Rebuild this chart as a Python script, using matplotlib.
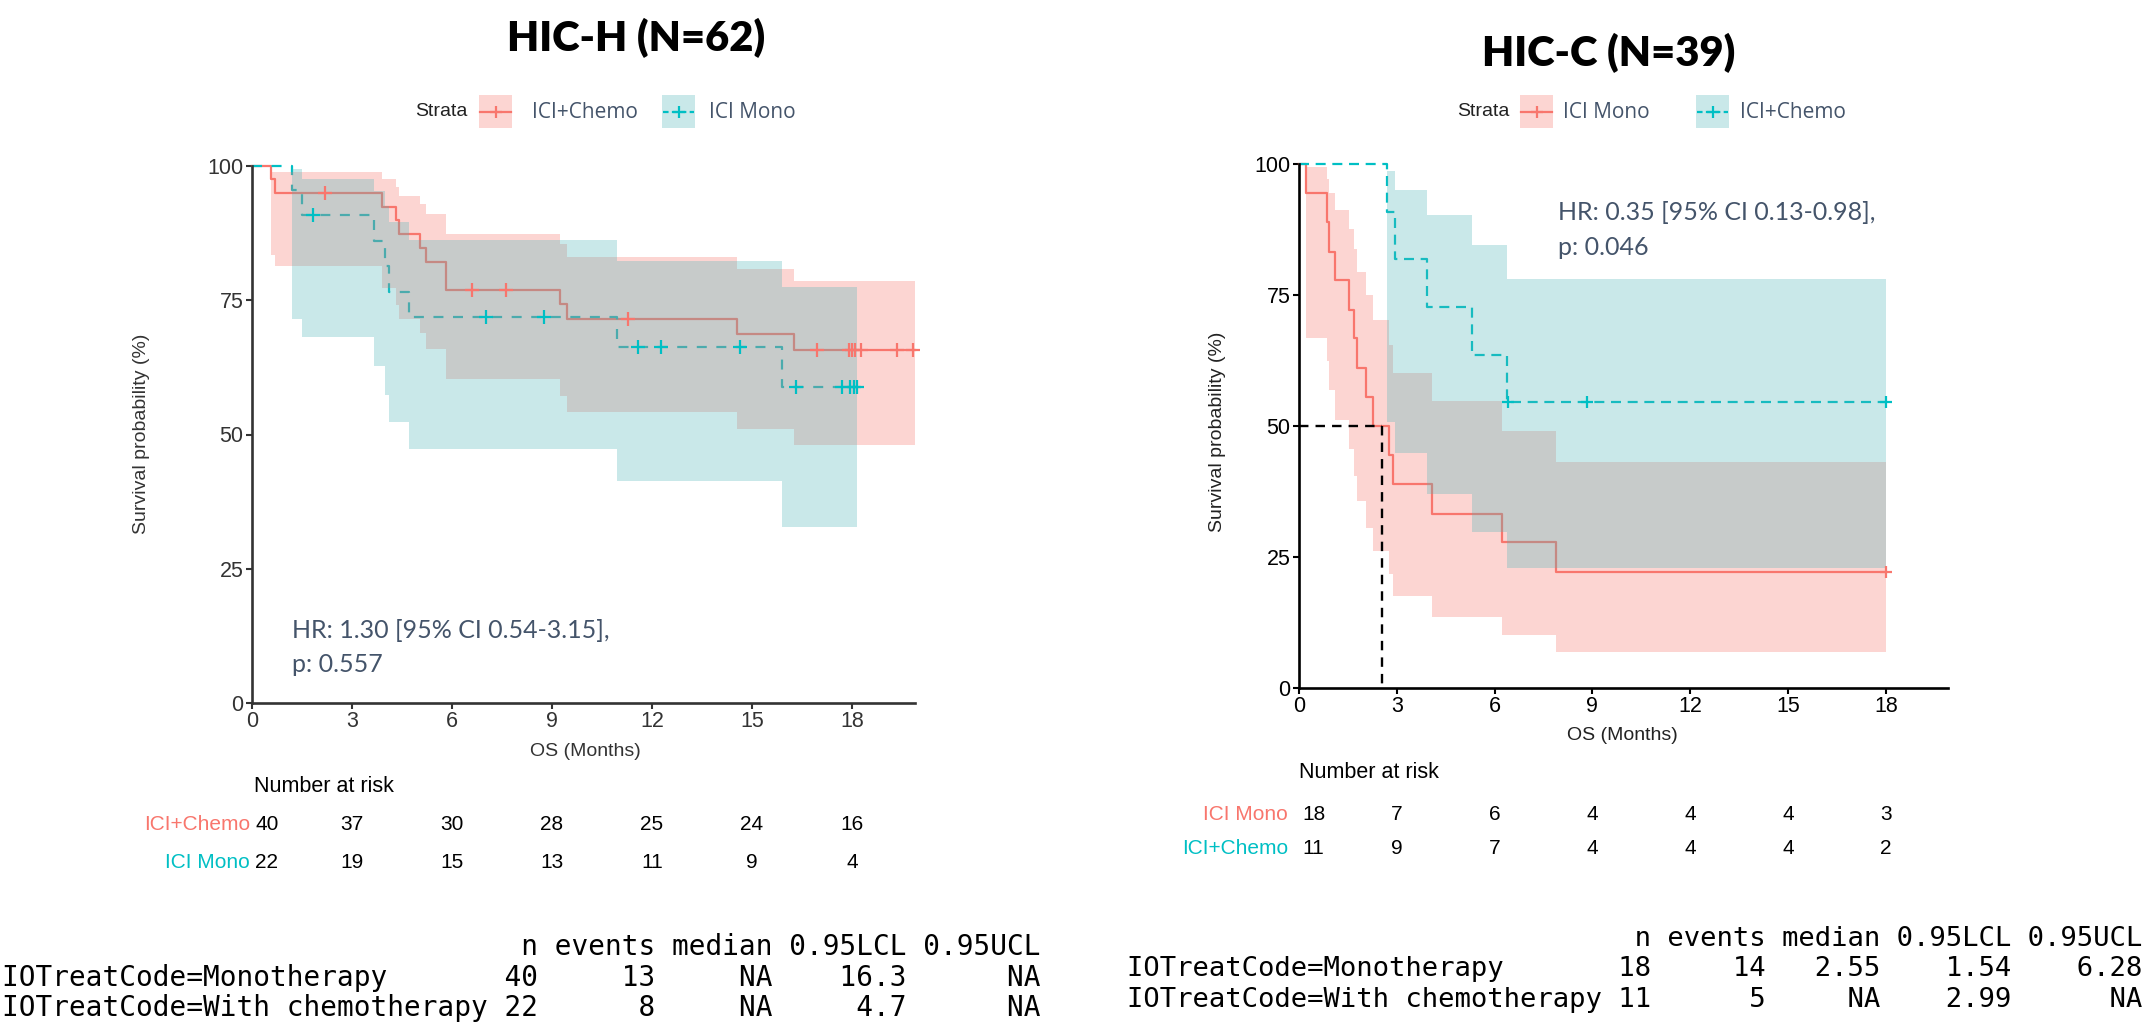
import numpy as np
import matplotlib
matplotlib.use("Agg")
from matplotlib import pyplot as plt
from matplotlib import transforms
from matplotlib.patches import Rectangle
from matplotlib.lines import Line2D

plt.rcParams["font.family"] = ["Liberation Sans", "DejaVu Sans"]

RED = "#F8766D"
BLUE = "#00BFC4"
BLUE_BAND = "#4FB5B8"
SLATE = "#44546A"
W, H = 2156, 1023

# ---- HIC-H (left panel) ----
h_chemo_t = [0, 0.57, 0.68, 3.91, 4.31, 4.41, 5.03, 5.22, 5.82, 9.23, 9.45, 14.54, 16.26]
h_chemo_s = [100, 97.5, 95.0, 92.4, 89.9, 87.3, 84.7, 82.2, 77.0, 74.3, 71.5, 68.7, 65.8]
h_chemo_lo = [100, 83.4, 81.4, 77.3, 74.2, 71.5, 68.9, 66.0, 60.3, 57.1, 54.2, 51.1, 48.0]
h_chemo_hi = [100, 98.9, 98.9, 97.5, 96.1, 94.5, 92.9, 91.1, 87.3, 85.4, 83.1, 80.8, 78.5]
h_chemo_end = 19.9
h_chemo_cens = [2.2, 6.6, 7.63, 11.28, 16.95, 17.9, 18.0, 18.1, 18.27, 19.35, 19.82]

h_mono_t = [0, 1.2, 1.5, 3.65, 4.0, 4.12, 4.71, 10.94, 15.9]
h_mono_s = [100, 95.5, 90.9, 86.1, 81.3, 76.6, 71.8, 66.3, 58.9]
h_mono_lo = [100, 71.6, 68.1, 62.8, 57.4, 52.4, 47.3, 41.3, 32.8]
h_mono_hi = [100, 99.4, 97.6, 95.3, 92.6, 89.6, 86.3, 82.4, 77.5]
h_mono_end = 18.16
h_mono_cens = [1.83, 7.03, 8.75, 11.58, 12.26, 14.64, 16.31, 17.71, 17.95, 18.05, 18.16]

# ---- HIC-C (right panel) ----
c_mono_t = [0, 0.21, 0.85, 0.91, 1.11, 1.54, 1.69, 1.79, 2.06, 2.28, 2.77, 2.89, 4.07, 6.22, 7.88]
c_mono_s = [100, 94.4, 88.9, 83.3, 77.8, 72.2, 66.7, 61.1, 55.6, 50.0, 44.4, 38.9, 33.3, 27.8, 22.2]
c_mono_lo = [100, 66.7, 62.5, 56.9, 51.1, 45.7, 40.5, 35.6, 30.5, 26.1, 21.8, 17.6, 13.6, 10.1, 6.9]
c_mono_hi = [100, 99.5, 97.1, 94.4, 91.2, 87.6, 83.8, 79.3, 75.0, 70.2, 65.4, 60.2, 54.8, 49.1, 43.1]
c_mono_end = 18.0
c_mono_cens = [18.0]

c_chemo_t = [0, 2.71, 2.94, 3.92, 5.32, 6.37]
c_chemo_s = [100, 90.9, 81.8, 72.7, 63.6, 54.5]
c_chemo_lo = [100, 50.8, 44.8, 37.1, 29.7, 22.9]
c_chemo_hi = [100, 98.7, 95.1, 90.3, 84.5, 78.0]
c_chemo_end = 18.0
c_chemo_cens = [6.4, 8.82, 18.0]
c_median = 2.54

# ---- number at risk ----
risk_times = [0, 3, 6, 9, 12, 15, 18]
h_risk_chemo = [40, 37, 30, 28, 25, 24, 16]
h_risk_mono = [22, 19, 15, 13, 11, 9, 4]
c_risk_mono = [18, 7, 6, 4, 4, 4, 3]
c_risk_chemo = [11, 9, 7, 4, 4, 4, 2]

# ---- console summaries ----
sum_names = ["IOTreatCode=Monotherapy", "IOTreatCode=With chemotherapy"]
h_sum = [[40, 13, "NA", "16.3", "NA"], [22, 8, "NA", "4.7", "NA"]]
c_sum = [[18, 14, "2.55", "1.54", "6.28"], [11, 5, "NA", "2.99", "NA"]]

fig = plt.figure(figsize=(W / 100, H / 100), dpi=100)


def fx(x):
    return x / W


def fy(y):
    return 1 - y / H


def add_axes(x0, x1, ytop, ybot):
    return fig.add_axes([fx(x0), fy(ybot), (x1 - x0) / W, (ybot - ytop) / H])


def step_at(t, s, x):
    i = np.searchsorted(t, x, side="right") - 1
    return np.asarray(s)[i]


def draw_lines(ax, t, s, end, color, dashes):
    ls = "-" if dashes is None else (0, dashes)
    ax.step(list(t) + [end], list(s) + [s[-1]], where="post", color=color,
            lw=1.6, linestyle=ls, zorder=2, clip_on=False)


def draw_band(ax, t, lo, hi, end, color):
    ax.fill_between(list(t) + [end], list(lo) + [lo[-1]], list(hi) + [hi[-1]],
                    step="post", color=color, alpha=0.3, lw=0, zorder=3, clip_on=False)


def draw_cens(ax, t, s, cens, color, ms):
    ax.plot(cens, step_at(t, s, cens), ls="none", marker="+", ms=ms, mew=1.6,
            color=color, zorder=4, clip_on=False)


def style_axes(ax, xmax, axcolor):
    ax.set_xlim(0, xmax)
    ax.set_ylim(0, 100)
    ax.set_xticks(risk_times)
    ax.set_yticks([0, 25, 50, 75, 100])
    for side in ("top", "right"):
        ax.spines[side].set_visible(False)
    for side in ("left", "bottom"):
        ax.spines[side].set_linewidth(1.9)
        ax.spines[side].set_color(axcolor)
        ax.spines[side].set_zorder(5)
    ax.tick_params(direction="out", length=4, width=1.5, color=axcolor,
                   labelcolor=axcolor, labelsize=15.5, pad=2)


def draw_legend(strata_x, keys):
    ym = 112
    fig.text(fx(strata_x), fy(ym), "Strata", fontsize=14, color="#222222", va="center")
    for px, lx, label, color, band, dashes in keys:
        fig.add_artist(Rectangle((fx(px), fy(128)), 33 / W, 33 / H, transform=fig.transFigure,
                                 facecolor=band, alpha=0.3, lw=0))
        ls = "-" if dashes is None else (0, dashes)
        fig.add_artist(Line2D([fx(px + 1), fx(px + 32)], [fy(ym), fy(ym)], color=color,
                              lw=1.6, ls=ls, transform=fig.transFigure))
        fig.add_artist(Line2D([fx(px + 16.5)], [fy(ym)], marker="+", ms=9, mew=1.6,
                              color=color, transform=fig.transFigure))
        fig.text(fx(lx), fy(ym), label, fontsize=15, color=SLATE, va="center",
                 family="Open Sans")


def draw_risk(ax, head_xy, rows, label_x):
    tr = transforms.blended_transform_factory(ax.transData, fig.transFigure)
    fig.text(fx(head_xy[0]), fy(head_xy[1]), "Number at risk", fontsize=15.5, va="center")
    for y, label, color, counts in rows:
        fig.text(fx(label_x), fy(y), label, fontsize=15, color=color, ha="right", va="center")
        for k, (tt, n) in enumerate(zip(risk_times, counts)):
            xpos = tt + (0.45 if k == 0 else 0)
            ax.text(xpos, fy(y), str(n), transform=tr, fontsize=15, ha="center",
                    va="center", clip_on=False)


def summary_lines(values):
    lines = [f"{'':<29} {'n':>2} {'events':>6} {'median':>6} {'0.95LCL':>7} {'0.95UCL':>7}"]
    for name, (n, ev, med, lcl, ucl) in zip(sum_names, values):
        lines.append(f"{name:<29} {n:>2} {ev:>6} {med:>6} {lcl:>7} {ucl:>7}")
    return lines


# ---------------- left panel ----------------
axl = add_axes(252, 252 + 19.9 * 33.33, 166, 703)
draw_lines(axl, h_chemo_t, h_chemo_s, h_chemo_end, RED, None)
draw_lines(axl, h_mono_t, h_mono_s, h_mono_end, BLUE, (4.5, 4.3))
draw_band(axl, h_chemo_t, h_chemo_lo, h_chemo_hi, h_chemo_end, RED)
draw_band(axl, h_mono_t, h_mono_lo, h_mono_hi, h_mono_end, BLUE_BAND)
draw_cens(axl, h_chemo_t, h_chemo_s, h_chemo_cens, RED, 10)
draw_cens(axl, h_mono_t, h_mono_s, h_mono_cens, BLUE, 10)
style_axes(axl, 19.9, "#333333")

fig.text(fx(636), fy(38), "HIC-H (N=62)", fontsize=30, weight="heavy", family="Lato",
         ha="center", va="center")
draw_legend(415, [(479, 532, "ICI+Chemo", RED, RED, None),
                  (662, 709, "ICI Mono", BLUE, BLUE_BAND, (2.5, 1.5))])
fig.text(fx(142), fy(434), "Survival probability (%)", rotation=90, fontsize=14,
         color="#333333", ha="center", va="center")
fig.text(fx(585), fy(752), "OS (Months)", fontsize=14, color="#333333", ha="center", va="center")
fig.text(fx(292), fy(638), "HR: 1.30 [95% CI 0.54-3.15],", fontsize=18, family="Lato",
         color=SLATE, va="baseline")
fig.text(fx(292), fy(672), "p: 0.557", fontsize=18, family="Lato", color=SLATE, va="baseline")
draw_risk(axl, (254, 787), [(825, "ICI+Chemo", RED, h_risk_chemo),
                            (862, "ICI Mono", BLUE, h_risk_mono)], 250)

# ---------------- right panel ----------------
axr = add_axes(1299, 1299 + 19.9 * 32.6, 164, 688)
draw_lines(axr, c_mono_t, c_mono_s, c_mono_end, RED, None)
draw_lines(axr, c_chemo_t, c_chemo_s, c_chemo_end, BLUE, (4.5, 3))
draw_band(axr, c_mono_t, c_mono_lo, c_mono_hi, c_mono_end, RED)
draw_band(axr, c_chemo_t, c_chemo_lo, c_chemo_hi, c_chemo_end, BLUE_BAND)
axr.plot([0, c_median], [50, 50], color="black", lw=1.7, ls=(0, (4, 3)), zorder=4)
axr.plot([c_median, c_median], [50, 0], color="black", lw=1.7, ls=(0, (4, 3)), zorder=4)
draw_cens(axr, c_mono_t, c_mono_s, c_mono_cens, RED, 9)
draw_cens(axr, c_chemo_t, c_chemo_s, c_chemo_cens, BLUE, 9)
style_axes(axr, 19.9, "black")

fig.text(fx(1609), fy(53), "HIC-C (N=39)", fontsize=30, weight="heavy", family="Lato",
         ha="center", va="center")
draw_legend(1457, [(1520, 1563, "ICI Mono", RED, RED, None),
                   (1696, 1740, "ICI+Chemo", BLUE, BLUE_BAND, (2.5, 1.5))])
fig.text(fx(1217), fy(432), "Survival probability (%)", rotation=90, fontsize=14,
         color="#222222", ha="center", va="center")
fig.text(fx(1622), fy(736), "OS (Months)", fontsize=14, color="#222222", ha="center", va="center")
fig.text(fx(1558), fy(220), "HR: 0.35 [95% CI 0.13-0.98],", fontsize=18, family="Lato",
         color=SLATE, va="baseline")
fig.text(fx(1558), fy(255), "p: 0.046", fontsize=18, family="Lato", color=SLATE, va="baseline")
draw_risk(axr, (1299, 773), [(814, "ICI Mono", RED, c_risk_mono),
                             (848, "ICI+Chemo", BLUE, c_risk_chemo)], 1288)

# ---------------- console tables ----------------
for k, line in enumerate(summary_lines(h_sum)):
    fig.text(fx(2), fy(947 + 30.5 * k), line, family="DejaVu Sans Mono", fontsize=20, va="center")
for k, line in enumerate(summary_lines(c_sum)):
    fig.text(fx(1127), fy(939 + 30.5 * k), line, family="DejaVu Sans Mono", fontsize=19.6, va="center")

fig.savefig("out.png", dpi=100)
